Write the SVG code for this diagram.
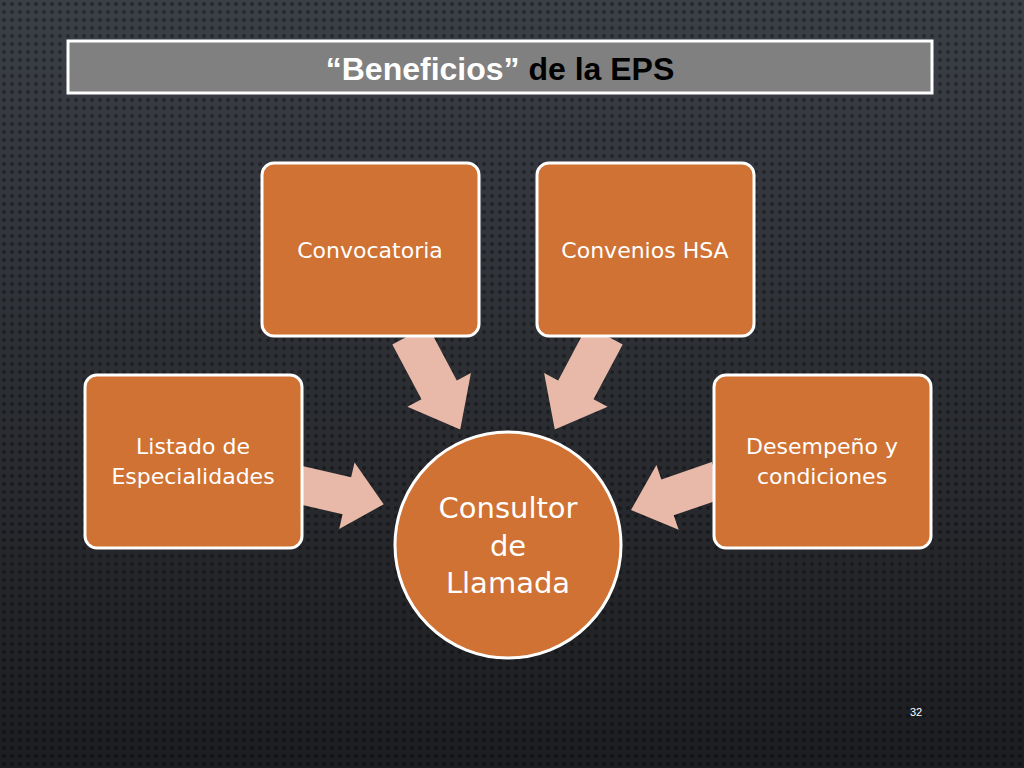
<svg xmlns="http://www.w3.org/2000/svg" width="1024" height="768" viewBox="0 0 1024 768">
<style>
.box{fill:#CF7233;stroke:#fff;stroke-width:3}
.t{font-family:"DejaVu Sans",sans-serif;fill:#fff;text-anchor:middle}
.arr{fill:#E8B9A8}
</style>
<defs>
<linearGradient id="bg" x1="0" y1="0" x2="0" y2="1"><stop offset="0" stop-color="#3b3f46"/><stop offset="1" stop-color="#1c1d20"/></linearGradient>
<pattern id="dots" width="8" height="8" patternUnits="userSpaceOnUse"><circle cx="4" cy="4" r="2" fill="#000" opacity="0.35"/></pattern>
<polygon id="ba" points="0,-20 58,-20 58,-36 100,0 58,36 58,20 0,20"/>
</defs>
<rect width="1024" height="768" fill="url(#bg)"/>
<rect width="1024" height="768" fill="url(#dots)"/>
<g id="title">
<rect x="68" y="41" width="864" height="52" fill="#808080" stroke="#fff" stroke-width="3"/>
<text x="500" y="80" font-family="Liberation Sans Narrow,Liberation Sans,sans-serif" font-weight="bold" font-size="32" text-anchor="middle"><tspan fill="#fff">“Beneficios”</tspan><tspan fill="#000"> de la EPS</tspan></text>
</g>
<g id="connectors" class="arr">
<use href="#ba" transform="translate(410,335) rotate(62) scale(1.07,1)"/>
<use href="#ba" transform="translate(605,335) rotate(118) scale(1.07,1)"/>
<use href="#ba" transform="translate(296,484) rotate(13) scale(0.9,0.95)"/>
<use href="#ba" transform="translate(718,480) rotate(161) scale(0.92,0.95)"/>
</g>
<g id="center"><circle cx="508" cy="545" r="113" class="box"/>
<text class="t" font-size="29" x="508" y="518">Consultor</text>
<text class="t" font-size="29" x="508" y="556">de</text>
<text class="t" font-size="29" x="508" y="593">Llamada</text></g>
<g id="listado"><rect x="85" y="375" width="217" height="173" rx="12" class="box"/>
<text class="t" font-size="22" x="193" y="454">Listado de</text>
<text class="t" font-size="22" x="193" y="484">Especialidades</text></g>
<g id="convocatoria"><rect x="262" y="163" width="217" height="173" rx="12" class="box"/>
<text class="t" font-size="22" x="370" y="258">Convocatoria</text></g>
<g id="convenios"><rect x="537" y="163" width="217" height="173" rx="12" class="box"/>
<text class="t" font-size="22" x="645" y="258">Convenios HSA</text></g>
<g id="desempeno"><rect x="714" y="375" width="217" height="173" rx="12" class="box"/>
<text class="t" font-size="22" x="822" y="454">Desempeño y</text>
<text class="t" font-size="22" x="822" y="484">condiciones</text></g>
<text x="916" y="716" font-family="Liberation Sans,sans-serif" font-size="11" fill="#fff" text-anchor="middle">32</text>
</svg>
